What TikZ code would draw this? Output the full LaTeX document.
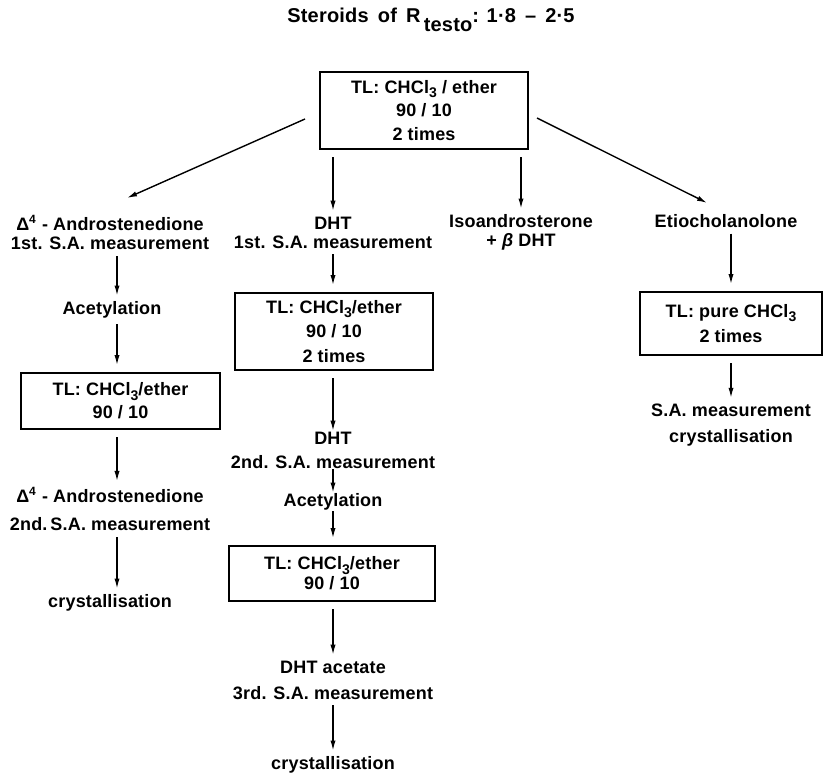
\documentclass[tikz,border=0pt]{standalone}
\usepackage{fontspec}
\setmainfont{Liberation Sans}[LetterSpace=1.0]
\usetikzlibrary{arrows.meta}

\newcommand{\chcl}{CHCl\raisebox{-0.45ex}{\fontsize{7}{7}\selectfont 3}}

\begin{document}
\begin{tikzpicture}[x = 0.5pt, y = -0.5pt, line width = 0.7pt,
	>={Latex[length = 5pt, width = 2.6pt]},
	txt/.style = {inner sep = 3pt, outer sep = 0pt, align = center, font = \fontsize{9}{9.5}\selectfont\bfseries},
	tlbox/.style = {draw, inner sep = 0pt, outer sep = 4pt, align = center, font = \fontsize{9}{11.75}\selectfont\bfseries}]
	\useasboundingbox (0, 0) rectangle (824, 773);
	
	\node[txt, font = \fontsize{10}{10}\selectfont\bfseries] (title) at (431, 20) {Steroids \,of \,R\,\raisebox{-0.9ex}{testo}: 1·8 \,–\, 2·5};
	
	\node[tlbox, minimum width = 104pt, minimum height = 38.5pt] (top) at (424, 110.5) {TL: \chcl\ / ether\\90 / 10\\2 times};
	
	\node[txt] (andro1) at (110, 232.5) {Δ\textsuperscript{4} - Androstenedione\\1st. S.A. measurement};
	\node[txt] (dht1) at (333, 232.5) {DHT\\1st. S.A. measurement};
	\node[txt] (iso) at (521, 232.5) {Isoandrosterone\\+ {\itshape β} DHT};
	\node[txt] (etio) at (726, 221) {Etiocholanolone};
	
	\node[txt] (acet1) at (112, 310) {Acetylation};
	\node[tlbox, minimum width = 99.5pt, minimum height = 28pt] (lbox) at (120.5, 401) {TL: \chcl/ether\\[-0.25pt]90 / 10};
	\node[txt] (andro2) at (110, 509) {Δ\textsuperscript{4} - Androstenedione\\[4.5pt]2nd.\,S.A. measurement};
	\node[txt] (cryst1) at (110, 603) {crystallisation};
	
	\node[tlbox, minimum width = 99pt, minimum height = 38.5pt] (mbox1) at (334, 331.5) {TL: \chcl/ether\\[0.5pt]90 / 10\\[0.5pt]2 times};
	\node[txt, inner sep = 0.5pt] (dht2) at (333, 450) {DHT\\[2.5pt]2nd. S.A. measurement};
	\node[txt, inner sep = 0.5pt] (acet2) at (333, 502) {Acetylation};
	\node[tlbox, minimum width = 103pt, minimum height = 27.5pt] (mbox2) at (332, 573.5) {TL: \chcl/ether\\[-1.75pt]90 / 10};
	\node[txt] (dht3) at (333, 680) {DHT acetate\\[3.5pt]3rd. S.A. measurement};
	\node[txt] (cryst2) at (333, 765) {crystallisation};
	
	\node[tlbox, minimum width = 91pt, minimum height = 31.5pt] (rbox) at (731, 323.5) {TL: pure \chcl\\[0.75pt]2 times};
	\node[txt] (sa) at (731, 425) {S.A. measurement\\[3.5pt]crystallisation};
	
	\draw[->] ([shift = {(-3.5pt, -4.25pt)}]top.west) -- ([shift = {(8.5pt, 5.5pt)}]andro1.north);
	\draw[->] ([shift = {(0.5pt, -3.75pt)}]top.east) -- ([shift = {(-9.5pt, 2.75pt)}]etio.north);
	\draw[->] (top.south -| dht1) -- (dht1);
	\draw[->] (top.south -| iso) -- (iso);
	
	\draw[->] ([xshift = 3.5pt]andro1.south) -- ([xshift = 2.5pt]acet1.north);
	\draw[->] ([xshift = 2.5pt]acet1.south) -- ([xshift = 2.5pt]acet1.south |- lbox.north);
	\draw[->] ([xshift = 3.5pt]lbox.south -| andro2) -- ([xshift = 3.5pt]andro2.north);
	\draw[->] ([xshift = 3.5pt]andro2.south) -- ([xshift = 3.5pt]cryst1.north);
	
	\draw[->] (dht1) -- (dht1 |- mbox1.north);
	\draw[->] (mbox1.south -| dht2) -- (dht2);
	\draw[->] (dht2) -- (acet2);
	\draw[->] (acet2) -- (acet2 |- mbox2.north);
	\draw[->] (mbox2.south -| dht3) -- (dht3);
	\draw[->] (dht3) -- (cryst2);
	
	\draw[->] (etio.south -| rbox) -- (rbox);
	\draw[->] (rbox) -- (sa);
\end{tikzpicture}
\end{document}
